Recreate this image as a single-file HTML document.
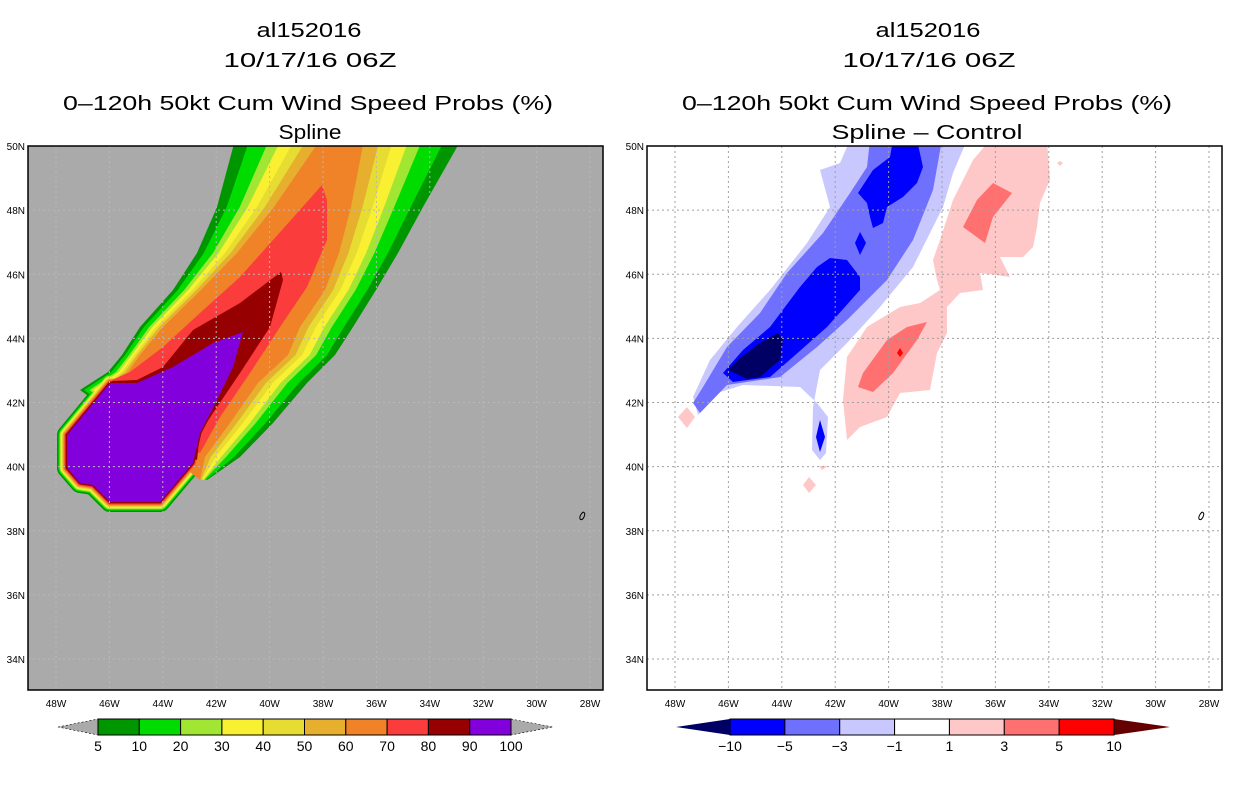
<!DOCTYPE html>
<html><head><meta charset="utf-8"><style>
html,body{margin:0;padding:0;background:#fff;}
svg{display:block;font-family:"Liberation Sans",sans-serif;}
</style></head><body>
<svg id="s" width="1236" height="800" viewBox="0 0 1236 800">
<defs>
<clipPath id="cl"><rect x="28" y="146" width="575" height="544"/></clipPath>
<clipPath id="cr"><rect x="647" y="146" width="575" height="544"/></clipPath>
</defs>
<g font-size="20" text-anchor="middle" fill="#000">
<text x="309" y="37" textLength="105" lengthAdjust="spacingAndGlyphs">al152016</text>
<text x="310" y="67" textLength="173" lengthAdjust="spacingAndGlyphs">10/17/16 06Z</text>
<text x="308" y="110" textLength="490" lengthAdjust="spacingAndGlyphs">0–120h 50kt Cum Wind Speed Probs (%)</text>
<text x="310" y="139" textLength="63" lengthAdjust="spacingAndGlyphs">Spline</text>
<text x="928" y="37" textLength="105" lengthAdjust="spacingAndGlyphs">al152016</text>
<text x="929" y="67" textLength="173" lengthAdjust="spacingAndGlyphs">10/17/16 06Z</text>
<text x="927" y="110" textLength="490" lengthAdjust="spacingAndGlyphs">0–120h 50kt Cum Wind Speed Probs (%)</text>
<text x="927" y="139" textLength="191" lengthAdjust="spacingAndGlyphs">Spline – Control</text>
</g>
<rect x="28" y="146" width="575" height="544" fill="#aaaaaa"/>
<g id="leftFill" clip-path="url(#cl)"></g>
<g id="rightFill" clip-path="url(#cr)"></g>
<g id="grids"></g>
<path d="M583,512 q-4,4 -3,7 q2,2 4,-2 q2,-4 -1,-5" fill="none" stroke="#000" stroke-width="1"/>
<path d="M1202,512 q-4,4 -3,7 q2,2 4,-2 q2,-4 -1,-5" fill="none" stroke="#000" stroke-width="1"/>
<rect x="28" y="146" width="575" height="544" fill="none" stroke="#000" stroke-width="1.5"/>
<rect x="647" y="146" width="575" height="544" fill="none" stroke="#000" stroke-width="1.5"/>
<g id="axes" font-size="10" fill="#000"></g>
<g id="cbars"></g>
</svg>
<script>
const NS='http://www.w3.org/2000/svg';
const latTicks=[34,36,38,40,42,44,46,48,50];
const lonTicks=[48,46,44,42,40,38,36,34,32,30,28];
const probLevels=['5','10','20','30','40','50','60','70','80','90','100'];
const probColors=['#009600','#00dc00','#a0e632','#faf032','#e6dc32','#e6af2d','#f08228','#fa3c3c','#960000','#8200dc'];
const diffLevels=['−10','−5','−3','−1','1','3','5','10'];
const diffColors=['#0000ff','#7070ff','#c8c8ff','#ffffff','#ffc8c8','#ff7070','#ff0000'];
function X(lonW,p){return (p?675:56)+(48-lonW)*26.7;}
function Y(lat){return 659-(lat-34)*32.06;}
function mk(tag,attrs,parent){const e=document.createElementNS(NS,tag);for(const k in attrs)e.setAttribute(k,attrs[k]);parent.appendChild(e);return e;}
function pts(a){return a.map(p=>p.join(',')).join(' ');}

// ---- left plume contours
const lf=document.getElementById('leftFill');
const bandT=[0,.17,.4,.54,.7,.84,1];
const ly=[140,207,253,290,327,355,372,390];
const dgL=[235,217,197,173,140,122,108,80];
const orL=[320,274,237,201,163,140,128,104];
const ry=[140,207,253,290,327,355,383,423,457,480];
const dgR=[461,423,398,376,353,335,307,273,240,207];
const orR=[364,351,339,325,300,288,258,230,205,200];
const purple=[[67,435],[110,383],[137,383],[173,367],[213,343],[243,332],[233,367],[217,400],[200,433],[193,463],[160,502],[110,502],[93,485],[80,483],[67,468]];
const redPoly=[[322,185],[307,202],[273,240],[240,277],[200,313],[163,347],[130,372],[112,380],[150,440],[200,453],[220,417],[250,373],[280,327],[307,287],[327,240],[327,200]];
const darkPoly=[[281,272],[240,303],[193,330],[163,367],[137,380],[112,381],[150,440],[197,460],[200,433],[213,413],[240,373],[270,327],[283,280]];
const ringOff=[10,8.5,7.3,6.3,5.3,4.3,3.4,2.5,1.4];
const pPath='M'+purple.map(p=>p.join(',')).join(' L')+' Z';
for(let i=0;i<9;i++){
  let poly;
  if(i<7){
    const t=bandT[i];
    const L=ly.map((y,k)=>[dgL[k]+(orL[k]-dgL[k])*t,y]);
    const R=ry.map((y,k)=>[dgR[k]+(orR[k]-dgR[k])*t,y]).reverse();
    poly=L.concat([[150,440]],R);
  } else poly=(i===7?redPoly:darkPoly);
  const pg=mk('polygon',{points:pts(poly),fill:probColors[i]},lf);
  
  
  const rg=mk('path',{d:pPath,fill:probColors[i],stroke:probColors[i],'stroke-width':ringOff[i]*2,'stroke-linejoin':'round'},lf);
  
  
}
const pp=mk('path',{d:pPath,fill:probColors[9]},lf);



// ---- right difference contours
const rf=document.getElementById('rightFill');
const diffShapes=[
 ['#c8c8ff','light-blue-area',[[850,140],[840,163],[820,170],[830,207],[807,243],[770,290],[737,327],[710,360],[693,397],[698,415],[717,393],[743,385],[800,387],[817,403],[828,417],[826,453],[820,460],[812,450],[813,407],[820,370],[847,343],[880,307],[913,267],[943,207],[953,173],[967,140]]],
 ['#7070ff','medium-blue-area',[[870,140],[867,167],[850,193],[823,233],[787,273],[760,313],[727,347],[703,387],[693,403],[700,413],[727,385],[760,380],[780,377],[817,347],[847,320],[887,280],[913,240],[933,190],[942,140]]],
 ['#0000ff','blue-area-lower',[[830,258],[847,260],[860,277],[860,290],[827,327],[793,357],[770,377],[733,382],[723,373],[743,350],[770,327],[800,287],[817,267]]],
 ['#0000ff','blue-area-upper',[[893,140],[917,140],[923,167],[917,183],[903,197],[887,207],[883,223],[873,228],[870,217],[867,203],[858,193],[873,170],[890,157]]],
 ['#0000ff','blue-diamond',[[860,232],[866,243],[860,255],[855,243]]],
 ['#0000ff','blue-droplet',[[820,420],[825,437],[820,452],[816,437]]],
 ['#7070ff','blue-diamond-small',[[873,162],[876,165],[873,169],[870,165]]],
 ['#000064','navy-area',[[778,333],[783,340],[780,360],[760,377],[747,379],[728,370],[740,358],[760,343]]],
 ['#ffc8c8','pink-area',[[990,140],[973,160],[953,200],[940,240],[933,260],[937,280],[940,290],[920,303],[900,307],[867,327],[847,357],[843,400],[847,440],[860,427],[887,417],[900,393],[930,390],[937,353],[947,333],[947,307],[960,293],[983,290],[980,273],[1010,277],[1003,263],[1000,257],[1023,257],[1033,247],[1037,227],[1040,203],[1050,180],[1047,140]]],
 ['#ff7070','red-area-upper',[[993,183],[1012,193],[993,217],[985,243],[963,227],[977,200]]],
 ['#ff7070','red-area-lower',[[927,322],[917,340],[893,373],[873,392],[858,387],[863,373],[887,340],[907,327]]],
 ['#ff0000','bright-red-spot',[[900,348],[903,353],[900,357],[897,353]]],
 ['#ffc8c8','pink-diamond-west',[[687,407],[695,417],[687,428],[678,417]]],
 ['#ffc8c8','pink-diamond-south',[[809,477],[816,485],[809,493],[803,485]]],
 ['#ffc8c8','pink-spot-south',[[819,466],[828,466],[822,470]]],
 ['#ffc8c8','pink-spot-east',[[1060,161],[1063,163],[1060,166],[1057,163]]]
];
diffShapes.forEach(s=>{
  const e=mk('polygon',{points:pts(s[2]),fill:s[0]},rf);
  
  
});

// ---- grids
const gg=document.getElementById('grids');
[0,1].forEach(p=>{
  const x0=p?647:28,x1=x0+575;
  const col=p?'#a0a0a0':'#b8b8b8';
  latTicks.forEach(l=>{
    const e=mk('line',{x1:x0,x2:x1,y1:Y(l),y2:Y(l),stroke:col,'stroke-width':1,'stroke-dasharray':'2,3','clip-path':p?'url(#cr)':'url(#cl)'},gg);
    
    
  });
  lonTicks.forEach(l=>{
    const e=mk('line',{x1:X(l,p),x2:X(l,p),y1:146,y2:690,stroke:col,'stroke-width':1,'stroke-dasharray':'2,3','clip-path':p?'url(#cr)':'url(#cl)'},gg);
    
    
  });
});
// ---- axis labels
const ax=document.getElementById('axes');
[0,1].forEach(p=>{
  latTicks.forEach(l=>{
    const t=mk('text',{x:p?644:25,y:Y(l)+4,'text-anchor':'end'},ax);
    t.textContent=l+'N';
    
    
  });
  lonTicks.forEach(l=>{
    const t=mk('text',{x:X(l,p),y:707,'text-anchor':'middle'},ax);
    t.textContent=l+'W';
    
    
  });
});
// ---- colorbars
const cb=document.getElementById('cbars');
(function(){
  const x0=98,w=41.3;
  const lt=mk('polygon',{points:'58,727 98,719 98,735',fill:'#aaaaaa',stroke:'#000','stroke-width':0.6,'stroke-dasharray':'2,2'},cb);
  
  
  const rt=mk('polygon',{points:(x0+10*w)+',719 553,727 '+(x0+10*w)+',735',fill:'#aaaaaa',stroke:'#000','stroke-width':0.6,'stroke-dasharray':'2,2'},cb);
  
  
  probColors.forEach((c,i)=>{
    const r=mk('rect',{x:x0+i*w,y:719,width:w,height:16,fill:c,stroke:'#000','stroke-width':1},cb);
    
    
  });
  probLevels.forEach((l,i)=>{
    const t=mk('text',{x:x0+i*w,y:751,'text-anchor':'middle','font-size':14},cb);
    t.textContent=l;
    
    
  });
  const d0=730,dw=54.86;
  const dl=mk('polygon',{points:'676,727 730,719 730,735',fill:'#000064'},cb);
  
  
  const dr=mk('polygon',{points:(d0+7*dw)+',719 1170,727 '+(d0+7*dw)+',735',fill:'#640000'},cb);
  
  
  diffColors.forEach((c,i)=>{
    const r=mk('rect',{x:d0+i*dw,y:719,width:dw,height:16,fill:c,stroke:'#000','stroke-width':1},cb);
    
    
  });
  diffLevels.forEach((l,i)=>{
    const t=mk('text',{x:d0+i*dw,y:751,'text-anchor':'middle','font-size':14},cb);
    t.textContent=l;
    
    
  });
})();
</script>
</body></html>
